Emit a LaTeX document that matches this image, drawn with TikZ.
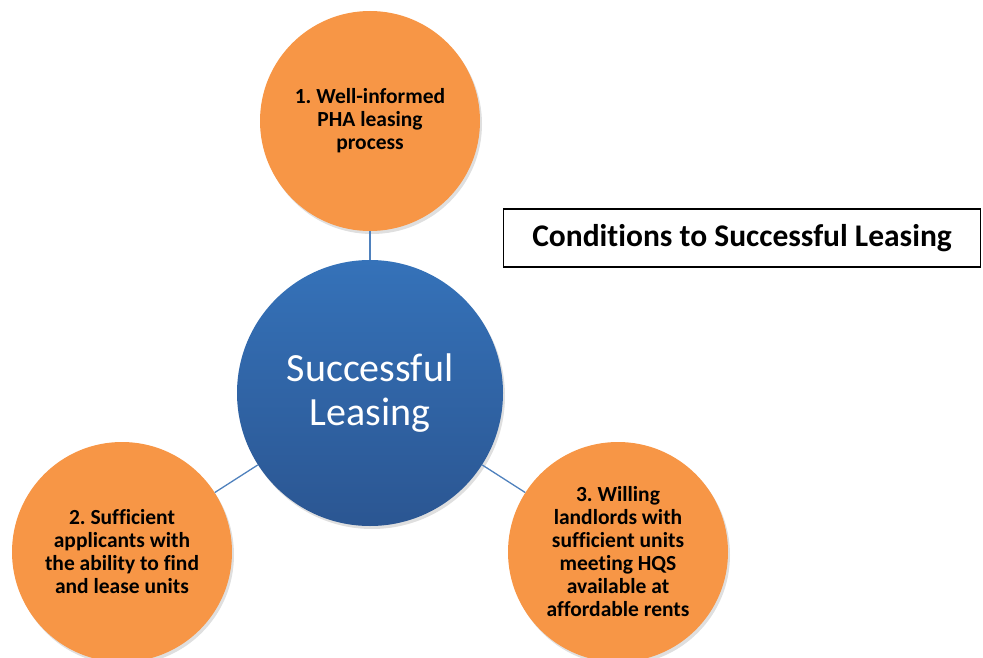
\documentclass[tikz,border=0pt]{standalone}
\usepackage{fontspec}
\setmainfont{Carlito}[Ligatures=NoCommon]
\usepackage{xcolor}
\usetikzlibrary{shadows}
\definecolor{condorange}{RGB}{247,150,70}
\definecolor{leasetop}{RGB}{53,114,185}
\definecolor{leasebot}{RGB}{43,86,146}
\definecolor{linkblue}{RGB}{79,129,189}
\frenchspacing

\begin{document}
\begin{tikzpicture}[x=1pt, y=-1pt,
  cond/.style={circle,fill=condorange,minimum size=220pt,inner sep=0pt,align=center,
    font=\bfseries\fontsize{21.5}{23}\selectfont,
    drop shadow={shadow xshift=2pt,shadow yshift=-3pt,opacity=0.25}},
  hub/.style={circle,minimum size=266pt,inner sep=0pt,align=center,text=white,
    top color=leasetop,bottom color=leasebot,
    font=\fontsize{40}{44}\selectfont,
    drop shadow={shadow xshift=2pt,shadow yshift=-3pt,opacity=0.25}},
  link/.style={draw=linkblue,line width=1.3pt}]
\useasboundingbox (0,0) rectangle (983,658);
\node[hub] (lease) at (370,393) {Successful\\Leasing};
\node[cond] (c1) at (370,121) {1. Well-informed\\PHA leasing\\process};
\node[cond] (c2) at (122,552) {2. Sufficient\\applicants with\\the ability to find\\and lease units};
\node[cond] (c3) at (618,552) {3. Willing\\landlords with\\sufficient units\\meeting HQS\\available at\\affordable rents};
\draw[link] (lease) -- (c1);
\draw[link] (lease) -- (c2);
\draw[link] (lease) -- (c3);
\node[draw,line width=1.5pt,minimum width=477pt,minimum height=58pt,font=\bfseries\fontsize{31.5}{34}\selectfont]
  (title) at (742,238) {Conditions to Successful Leasing};
\end{tikzpicture}
\end{document}
